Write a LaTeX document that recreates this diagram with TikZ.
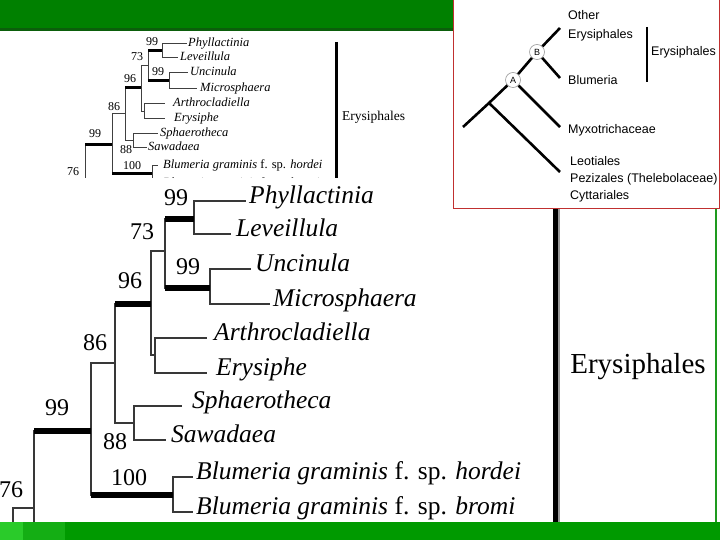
\documentclass[tikz,border=0pt]{standalone}
\usepackage{fontspec}
\setmainfont{Liberation Serif}
\newfontfamily\boxsans{Liberation Sans}
\definecolor{topgreen}{HTML}{008000}
\definecolor{topgreendark}{HTML}{0B5E0B}
\definecolor{botgreen}{HTML}{009A00}
\definecolor{botgreenA}{HTML}{2ACB2A}
\definecolor{botgreenB}{HTML}{14AE14}
\definecolor{boxred}{HTML}{C03030}
\definecolor{sidegreen}{HTML}{1E9A1E}
\begin{document}
\begin{tikzpicture}[x=1pt,y=-1pt,
  bigtaxon/.style={anchor=mid west,inner sep=0pt,font=\fontsize{25.5}{25.5}\selectfont\itshape},
  bignum/.style={inner sep=0pt,font=\fontsize{24}{24}\selectfont},
  bigthin/.style={line width=2.2pt,draw=black!78},
  bigthick/.style={line width=6pt,draw=black},
  smtaxon/.style={anchor=mid west,inner sep=0pt,font=\fontsize{12.5}{12.5}\selectfont\itshape},
  smnum/.style={inner sep=0pt,font=\fontsize{12}{12}\selectfont},
  smthin/.style={line width=1pt,draw=black!75},
  smthick/.style={line width=3pt,draw=black},
  boxlabel/.style={anchor=mid west,inner sep=0pt,font=\boxsans\fontsize{12.5}{12.5}\selectfont},
  boxedge/.style={line width=2.6pt,draw=black},
  boxcirc/.style={circle,draw=black!40,line width=0.6pt,fill=white,minimum size=15pt,inner sep=0pt,font=\boxsans\fontsize{9}{9}\selectfont}
]
\useasboundingbox (0,0) rectangle (720,540);
\fill[white] (0,0) rectangle (720,540);

% ---------- top green bar
\fill[topgreen] (0,0) rectangle (453,28);
\fill[topgreendark] (0,28) rectangle (453,31);

% ---------- small tree (thumbnail)
\begin{scope}
\clip (0,31) rectangle (453,178);
\coordinate (s99a) at (162,51);
\coordinate (s99b) at (169,81);
\coordinate (s73) at (148,66);
\coordinate (sAE) at (144,112);
\coordinate (s96) at (141,88);
\coordinate (s88) at (133,141);
\coordinate (s86) at (125,114);
\coordinate (sBlu) at (152,174);
\coordinate (sEry) at (112,145);
\coordinate (s99r) at (85,190);

\node[smtaxon] (sphy) at (188,44) {Phyllactinia};
\node[smtaxon] (slev) at (180,58) {Leveillula};
\node[smtaxon] (sunc) at (190,73) {Uncinula};
\node[smtaxon] (smic) at (200,89) {Microsphaera};
\node[smtaxon] (sart) at (173,104) {Arthrocladiella};
\node[smtaxon] (sery) at (174,119) {Erysiphe};
\node[smtaxon] (ssph) at (160,134) {Sphaerotheca};
\node[smtaxon] (ssaw) at (148,148) {Sawadaea};
\node[smtaxon] (shor) at (163,166) {Blumeria graminis {\upshape f. sp.} hordei};
\node[smtaxon] (sbro) at (163,184) {Blumeria graminis {\upshape f. sp.} bromi};

\draw[smthin,shorten >=1pt] (s99a) |- (sphy.mid west);
\draw[smthin,shorten >=2pt] (s99a) |- (slev.mid west);
\draw[smthin,shorten >=2pt] (s99b) |- (sunc.mid west);
\draw[smthin,shorten >=3pt] (s99b) |- (smic.mid west);
\draw[smthin,shorten >=8pt] (sAE) |- (sart.mid west);
\draw[smthin,shorten >=9pt] (sAE) |- (sery.mid west);
\draw[smthin,shorten >=2pt] (s88) |- (ssph.mid west);
\draw[smthin,shorten >=1pt] (s88) |- (ssaw.mid west);
\draw[smthin,shorten >=5pt] (sBlu) |- (shor.mid west);
\draw[smthin,shorten >=5pt] (sBlu) |- (sbro.mid west);

\draw[smthin] (s73) |- (s99a);
\draw[smthin] (s73) |- (s99b);
\draw[smthick] (s73 |- s99a) -- (s99a);
\draw[smthick] (s73 |- s99b) -- (s99b);
\draw[smthin] (s96) |- (s73);
\draw[smthin] (s96) |- (sAE);
\draw[smthin] (s86) |- (s96);
\draw[smthick] (s86 |- s96) -- (s96);
\draw[smthin] (s86) |- (s88);
\draw[smthin] (sEry) |- (s86);
\draw[smthin] (sEry) |- (sBlu);
\draw[smthick] (sEry |- sBlu) -- (sBlu);
\draw[smthin] (s99r) |- (sEry);
\draw[smthick] (s99r |- sEry) -- (sEry);

\node[smnum] (l1) at (152,42) {99};
\node[smnum] (l2) at (137,57) {73};
\node[smnum] (l3) at (158,72) {99};
\node[smnum] (l4) at (130,79) {96};
\node[smnum] (l5) at (114,107) {86};
\node[smnum] (l6) at (95,134) {99};
\node[smnum] (l7) at (126,150) {88};
\node[smnum] (l8) at (132,166) {100};
\node[smnum] (l9) at (73,172) {76};

\coordinate (sbarT) at (336.5,42);
\coordinate (sbarB) at (336.5,180);
\draw[line width=3pt] (sbarT) -- (sbarB);
\node[anchor=base west,inner sep=0pt,font=\fontsize{13.5}{13.5}\selectfont] (sEryLab) at (342,120.5) {Erysiphales};
\end{scope}

% ---------- large tree
\begin{scope}
\clip (0,178) rectangle (720,523);
\coordinate (n99a) at (194,219);
\coordinate (n99b) at (210,288);
\coordinate (n73) at (165,251);
\coordinate (nAE) at (155,355);
\coordinate (n96) at (151,304);
\coordinate (n88) at (134,423);
\coordinate (n86) at (115,363);
\coordinate (nBlu) at (173,495);
\coordinate (nEry) at (91,431);
\coordinate (n99r) at (34,508);
\coordinate (n76) at (13,560);
\coordinate (nLow) at (60,580);

\node[bigtaxon] (phy) at (249,201) {Phyllactinia};
\node[bigtaxon] (lev) at (236,234) {Leveillula};
\node[bigtaxon] (unc) at (255,269) {Uncinula};
\node[bigtaxon] (mic) at (273,304) {Microsphaera};
\node[bigtaxon] (art) at (214,338) {Arthrocladiella};
\node[bigtaxon] (ery) at (216,373) {Erysiphe};
\node[bigtaxon] (sph) at (192,406) {Sphaerotheca};
\node[bigtaxon] (saw) at (171,440) {Sawadaea};
\node[bigtaxon] (hor) at (196,477) {Blumeria graminis {\upshape f. sp.} hordei};
\node[bigtaxon] (bro) at (196,512) {Blumeria graminis {\upshape f. sp.} bromi};

\draw[bigthin,shorten >=3pt] (n99a) |- (phy.mid west);
\draw[bigthin,shorten >=5pt] (n99a) |- (lev.mid west);
\draw[bigthin,shorten >=4pt] (n99b) |- (unc.mid west);
\draw[bigthin,shorten >=3pt] (n99b) |- (mic.mid west);
\draw[bigthin,shorten >=7pt] (nAE) |- (art.mid west);
\draw[bigthin,shorten >=9pt] (nAE) |- (ery.mid west);
\draw[bigthin,shorten >=10pt] (n88) |- (sph.mid west);
\draw[bigthin,shorten >=5pt] (n88) |- (saw.mid west);
\draw[bigthin,shorten >=3pt] (nBlu) |- (hor.mid west);
\draw[bigthin,shorten >=3pt] (nBlu) |- (bro.mid west);

\draw[bigthin] (n73) |- (n99a);
\draw[bigthin] (n73) |- (n99b);
\draw[bigthick] (n73 |- n99a) -- (n99a);
\draw[bigthick] (n73 |- n99b) -- (n99b);
\draw[bigthin] (n96) |- (n73);
\draw[bigthin] (n96) |- (nAE);
\draw[bigthin] (n86) |- (n96);
\draw[bigthick] (n86 |- n96) -- (n96);
\draw[bigthin] (n86) |- (n88);
\draw[bigthin] (nEry) |- (n86);
\draw[bigthin] (nEry) |- (nBlu);
\draw[bigthick] (nEry |- nBlu) -- (nBlu);
\draw[bigthin] (n99r) |- (nEry);
\draw[bigthick] (n99r |- nEry) -- (nEry);
\draw[bigthin] (n99r) |- (nLow);
\draw[bigthin] (n76) |- (n99r);

\node[bignum] (b1) at (176,198) {99};
\node[bignum] (b2) at (142,232) {73};
\node[bignum] (b3) at (188,267) {99};
\node[bignum] (b4) at (130,281) {96};
\node[bignum] (b5) at (95,343) {86};
\node[bignum] (b6) at (57,408) {99};
\node[bignum] (b7) at (115,442) {88};
\node[bignum] (b8) at (129,478) {100};
\node[bignum] (b9) at (11,490) {76};

\coordinate (bbarT) at (555.5,205);
\coordinate (bbarB) at (555.5,523);
\draw[line width=5pt] (bbarT) -- (bbarB);
\draw[line width=2pt,black!40] ([xshift=3.8pt]bbarT) -- ([xshift=3.8pt]bbarB);
\node[anchor=base,inner sep=0pt,font=\fontsize{29}{29}\selectfont] (bigEryLab) at (638,373) {Erysiphales};
\end{scope}

% ---------- right green line
\coordinate (gT) at (716,209);
\coordinate (gB) at (716,523);
\draw[sidegreen,line width=2pt] (gT) -- (gB);

% ---------- inset box
\draw[boxred,line width=1pt,fill=white] (453.5,-2) rectangle (719.5,209);
\coordinate (r0) at (463,127);
\coordinate (r1) at (489,103);
\node[boxcirc] (A) at (513,80) {A};
\node[boxcirc] (B) at (537,52) {B};
\coordinate (eOth) at (560,28);
\coordinate (eBlu) at (560,78);
\coordinate (eMyx) at (560,127);
\coordinate (eLeo) at (560,172);
\draw[boxedge] (r0) -- (r1) -- (A);
\draw[boxedge] (r1) -- (eLeo);
\draw[boxedge] (A) -- (eMyx);
\draw[boxedge] (A) -- (B);
\draw[boxedge] (B) -- (eOth);
\draw[boxedge] (B) -- (eBlu);

\node[boxlabel] (tOther) at (568,17) {Other};
\node[boxlabel] (tEry1) at (568,36) {Erysiphales};
\node[boxlabel] (tBlu) at (568,82) {Blumeria};
\node[boxlabel] (tMyx) at (568,131) {Myxotrichaceae};
\node[boxlabel] (tLeo) at (570,163) {Leotiales};
\node[boxlabel] (tPez) at (570,180) {Pezizales (Thelebolaceae)};
\node[boxlabel] (tCyt) at (570,197) {Cyttariales};
\node[boxlabel] (tEry2) at (651,53) {Erysiphales};
\coordinate (vbT) at (647,27);
\coordinate (vbB) at (647,82);
\draw[line width=1.5pt] (vbT) -- (vbB);

% ---------- bottom green bar
\fill[botgreen] (0,522) rectangle (720,540);
\fill[botgreenA] (0,522) rectangle (23,540);
\fill[botgreenB] (23,522) rectangle (65,540);
\end{tikzpicture}
\end{document}
